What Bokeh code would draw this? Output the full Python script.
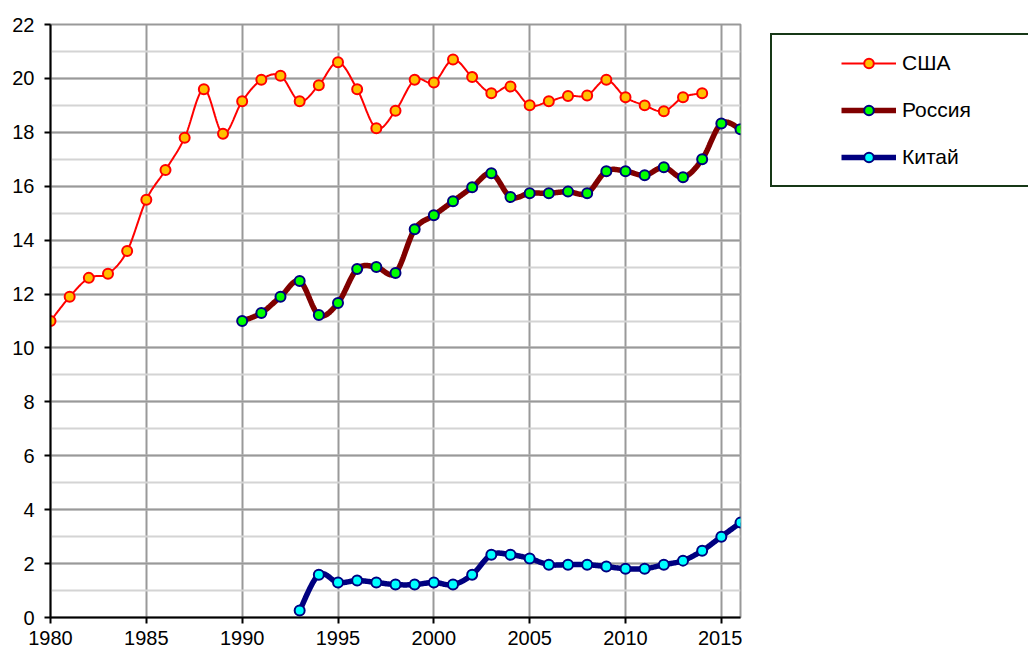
import numpy as np
from bokeh.plotting import figure
from bokeh.layouts import row
from bokeh.models import Range1d, SingleIntervalTicker, Legend, LegendItem
from bokeh.embed import file_html
from bokeh.resources import INLINE

# ---- data -------------------------------------------------------------
us_years = list(range(1980, 2015))
us_values = [11.0, 11.9, 12.6, 12.75, 13.6, 15.5, 16.6, 17.8, 19.6, 17.95,
             19.15, 19.95, 20.1, 19.15, 19.75, 20.6, 19.6, 18.15, 18.8, 19.95,
             19.85, 20.7, 20.05, 19.45, 19.7, 19.0, 19.15, 19.35, 19.37, 19.95,
             19.3, 19.0, 18.78, 19.3, 19.45]

ru_years = list(range(1990, 2017))
ru_values = [11.0, 11.3, 11.9, 12.48, 11.22, 11.67, 12.93, 13.0, 12.78, 14.4,
             14.92, 15.44, 15.96, 16.48, 15.6, 15.74, 15.74, 15.8, 15.74, 16.56,
             16.56, 16.41, 16.7, 16.33, 17.0, 18.33, 18.11]

cn_years = list(range(1993, 2017))
cn_values = [0.26, 1.59, 1.3, 1.37, 1.3, 1.22, 1.22, 1.3, 1.22, 1.59,
             2.33, 2.33, 2.19, 1.96, 1.96, 1.96, 1.89, 1.81, 1.81, 1.96,
             2.11, 2.48, 3.0, 3.52]

labels = ["США", "Россия", "Китай"]

FONT = "Liberation Sans"

US_STYLE = dict(line_color="#ff0000", line_width=2)
RU_STYLE = dict(line_color="#800000", line_width=5.5)
CN_STYLE = dict(line_color="#000080", line_width=5.5)
US_MARK = dict(size=10, fill_color="#ffc000", line_color="#ff0000", line_width=2)
RU_MARK = dict(size=10, fill_color="#00ff00", line_color="#000080", line_width=2)
CN_MARK = dict(size=10, fill_color="#00ffff", line_color="#000080", line_width=2)


def smooth(xs, ys, n=24):
    """Catmull-Rom smoothing (like Excel's smoothed line) through the points."""
    x = np.asarray(xs, float)
    y = np.asarray(ys, float)
    px = np.concatenate([[x[0]], x, [x[-1]]])
    py = np.concatenate([[y[0]], y, [y[-1]]])
    outx, outy = [], []
    t = np.linspace(0, 1, n, endpoint=False)
    for i in range(1, len(px) - 2):
        p0x, p1x, p2x, p3x = px[i - 1], px[i], px[i + 1], px[i + 2]
        p0y, p1y, p2y, p3y = py[i - 1], py[i], py[i + 1], py[i + 2]
        c1x, c1y = p1x + (p2x - p0x) / 6, p1y + (p2y - p0y) / 6
        c2x, c2y = p2x - (p3x - p1x) / 6, p2y - (p3y - p1y) / 6
        b0 = (1 - t) ** 3
        b1 = 3 * (1 - t) ** 2 * t
        b2 = 3 * (1 - t) * t ** 2
        b3 = t ** 3
        outx.extend(b0 * p1x + b1 * c1x + b2 * c2x + b3 * p2x)
        outy.extend(b0 * p1y + b1 * c1y + b2 * c2y + b3 * p2y)
    outx.append(x[-1])
    outy.append(y[-1])
    return outx, outy


# ---- main chart --------------------------------------------------------
p = figure(width=742, height=652, output_backend="svg", toolbar_location=None,
           x_range=Range1d(1980, 2016), y_range=Range1d(0, 22),
           min_border_left=50, min_border_right=2, min_border_top=24,
           min_border_bottom=35, background_fill_color="white",
           border_fill_color="white")

p.outline_line_color = "#999999"
p.outline_line_width = 2

xt = SingleIntervalTicker(interval=5, num_minor_ticks=0)
yt = SingleIntervalTicker(interval=2, num_minor_ticks=2)
p.xaxis.ticker = xt
p.yaxis.ticker = yt
p.xgrid.ticker = xt
p.ygrid.ticker = yt

p.xgrid.grid_line_color = "#999999"
p.xgrid.grid_line_width = 2
p.ygrid.grid_line_color = "#999999"
p.ygrid.grid_line_width = 2
p.ygrid.minor_grid_line_color = "#d4d4d4"
p.ygrid.minor_grid_line_width = 2

for ax in (p.xaxis, p.yaxis):
    ax.axis_line_color = "black"
    ax.axis_line_width = 2
    ax.major_tick_line_color = "black"
    ax.major_tick_line_width = 2
    ax.major_tick_in = 0
    ax.major_tick_out = 6
    ax.minor_tick_line_color = None
    ax.major_label_text_font = FONT
    ax.major_label_text_font_size = "20px"
    ax.major_label_text_color = "black"
p.yaxis.major_label_standoff = 10
p.xaxis.major_label_standoff = 7

sx, sy = smooth(us_years, us_values)
p.line(sx, sy, **US_STYLE)
sx, sy = smooth(ru_years, ru_values)
p.line(sx, sy, **RU_STYLE)
sx, sy = smooth(cn_years, cn_values)
p.line(sx, sy, **CN_STYLE)

p.scatter(us_years, us_values, **US_MARK)
p.scatter(ru_years, ru_values, **RU_MARK)
p.scatter(cn_years, cn_values, **CN_MARK)

# ---- legend panel (right) ----------------------------------------------
# Its frame is aligned with the main chart's frame; the series are drawn
# here only as legend proxies, far outside its (0..1) visible range.
q = figure(width=286, height=652, output_backend="svg", toolbar_location=None,
           x_range=Range1d(0, 1), y_range=Range1d(0, 1),
           x_axis_location=None, y_axis_location=None,
           min_border_left=0, min_border_right=0, min_border_top=0,
           min_border_bottom=0, background_fill_color="white",
           border_fill_color="white")
q.outline_line_color = None
q.grid.visible = False

lu = q.line(us_years, us_values, **US_STYLE)
mu = q.scatter(us_years, us_values, **US_MARK)
lr = q.line(ru_years, ru_values, **RU_STYLE)
mr = q.scatter(ru_years, ru_values, **RU_MARK)
lc = q.line(cn_years, cn_values, **CN_STYLE)
mc = q.scatter(cn_years, cn_values, **CN_MARK)

legend = Legend(items=[
    LegendItem(label=labels[0], renderers=[lu, mu]),
    LegendItem(label=labels[1], renderers=[lr, mr]),
    LegendItem(label=labels[2], renderers=[lc, mc]),
], location=(28, 430))
legend.title = " "
legend.title_location = "left"
legend.title_text_font_size = "1px"
legend.title_standoff = 52
legend.padding = 16
legend.margin = 0
legend.border_line_color = "#173817"
legend.border_line_alpha = 1.0
legend.border_line_width = 2
legend.background_fill_alpha = 0
legend.glyph_width = 55
legend.glyph_height = 24
legend.label_height = 24
legend.label_width = 160
legend.spacing = 23
legend.label_standoff = 6
legend.label_text_font = FONT
legend.label_text_font_size = "21px"
legend.label_text_color = "black"
q.add_layout(legend, "center")

layout = row(p, q, spacing=0)
open("out.html", "w").write(file_html(layout, INLINE))
